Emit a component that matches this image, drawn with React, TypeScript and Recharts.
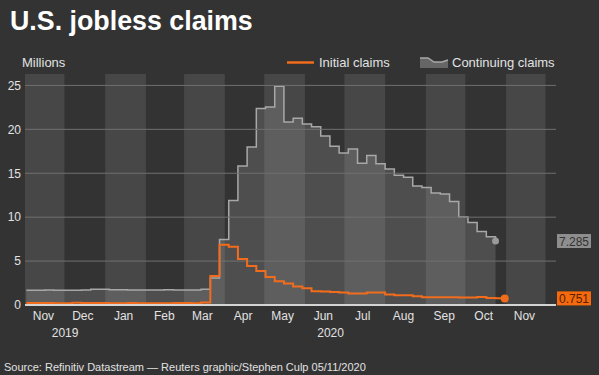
import React from "react";
import {
  ComposedChart,
  Area,
  Line,
  XAxis,
  YAxis,
  ReferenceArea,
  ReferenceLine,
  ReferenceDot,
} from "recharts";

// ---------- data ----------
const DOMAIN_START = "2019-11-01";
const DOMAIN_END = "2020-12-09";

const weekEnding: string[] = [
  "2019-11-02", "2019-11-09", "2019-11-16", "2019-11-23", "2019-11-30",
  "2019-12-07", "2019-12-14", "2019-12-21", "2019-12-28",
  "2020-01-04", "2020-01-11", "2020-01-18", "2020-01-25",
  "2020-02-01", "2020-02-08", "2020-02-15", "2020-02-22", "2020-02-29",
  "2020-03-07", "2020-03-14", "2020-03-21", "2020-03-28",
  "2020-04-04", "2020-04-11", "2020-04-18", "2020-04-25",
  "2020-05-02", "2020-05-09", "2020-05-16", "2020-05-23", "2020-05-30",
  "2020-06-06", "2020-06-13", "2020-06-20", "2020-06-27",
  "2020-07-04", "2020-07-11", "2020-07-18", "2020-07-25",
  "2020-08-01", "2020-08-08", "2020-08-15", "2020-08-22", "2020-08-29",
  "2020-09-05", "2020-09-12", "2020-09-19", "2020-09-26",
  "2020-10-03", "2020-10-10", "2020-10-17", "2020-10-24", "2020-10-31",
];

const initialClaims: number[] = [
  0.22, 0.22, 0.23, 0.21, 0.2,
  0.25, 0.23, 0.22, 0.22,
  0.21, 0.21, 0.22, 0.21,
  0.2, 0.2, 0.21, 0.22, 0.22,
  0.21, 0.28, 3.31, 6.87,
  6.62, 5.24, 4.44, 3.87,
  3.18, 2.69, 2.45, 2.12, 1.9,
  1.57, 1.54, 1.48, 1.41,
  1.31, 1.31, 1.42, 1.43,
  1.19, 1.1, 1.11, 1.01, 0.88,
  0.89, 0.87, 0.87, 0.85,
  0.85, 0.9, 0.79, 0.76, 0.751,
];

const continuingClaims: (number | null)[] = [
  1.69, 1.69, 1.7, 1.68, 1.69,
  1.67, 1.72, 1.8, 1.78,
  1.73, 1.73, 1.7, 1.7,
  1.7, 1.72, 1.73, 1.72, 1.7,
  1.7, 1.78, 3.06, 7.45,
  11.91, 15.82, 17.99, 22.38,
  22.55, 24.91, 20.84, 21.27, 20.61,
  20.29, 19.23, 18.06, 17.3,
  17.76, 16.15, 17.02, 16.09,
  15.48, 14.76, 14.54, 13.54, 13.39,
  12.75, 12.63, 11.77, 10.02,
  9.4, 8.37, 7.76, 7.285, null,
];

const monthTicks: string[] = [
  "2019-11-15", "2019-12-15", "2020-01-15", "2020-02-15", "2020-03-15",
  "2020-04-15", "2020-05-15", "2020-06-15", "2020-07-15", "2020-08-15",
  "2020-09-15", "2020-10-15", "2020-11-15",
];
const monthLabels: string[] = [
  "Nov", "Dec", "Jan", "Feb", "Mar", "Apr", "May", "Jun", "Jul", "Aug", "Sep", "Oct", "Nov",
];

const shadedMonths: [string, string][] = [
  ["2019-11-01", "2019-12-01"],
  ["2020-01-01", "2020-02-01"],
  ["2020-03-01", "2020-04-01"],
  ["2020-05-01", "2020-06-01"],
  ["2020-07-01", "2020-08-01"],
  ["2020-09-01", "2020-10-01"],
  ["2020-11-01", "2020-12-01"],
];

const years: number[] = [2019, 2020];
const yTicks: number[] = [0, 5, 10, 15, 20, 25];
const Y_MAX = 26.3;

// ---------- derived ----------
const ts = (d: string) => Date.parse(d + "T00:00:00Z");
const xStart = ts(DOMAIN_START);
const xEnd = ts(DOMAIN_END);

const rows = weekEnding.map((d, i) => ({
  t: ts(d),
  initial: initialClaims[i],
  cont: continuingClaims[i],
}));

const monthTickVals = monthTicks.map(ts);
const yearTickVals = years.map((y) => {
  const a = Math.max(xStart, Date.UTC(y, 0, 1));
  const b = Math.min(xEnd, Date.UTC(y + 1, 0, 1));
  return (a + b) / 2;
});

let lastContIdx = continuingClaims.length - 1;
while (lastContIdx >= 0 && continuingClaims[lastContIdx] == null) lastContIdx--;
const lastCont = continuingClaims[lastContIdx] as number;
const lastContT = ts(weekEnding[lastContIdx]);
const lastInit = initialClaims[initialClaims.length - 1];
const lastInitT = ts(weekEnding[weekEnding.length - 1]);

// ---------- styles ----------
const BG = "#333333";
const STRIPE = "#474747";
const ORANGE = "#f26c1e";
const GRAY_LINE = "#a8a8a8";
const TEXT = "#e2e2e2";
const FONT = "'Liberation Sans', Arial, Helvetica, sans-serif";

const EndTag = (props: any) => {
  const { x, y, payload } = props;
  const isInit = payload.value === lastInit;
  const fill = isInit ? "#f56a0c" : "#8e8e8e";
  const color = isInit ? "#5a1e00" : "#333333";
  const label = isInit ? lastInit.toFixed(3) : lastCont.toFixed(3);
  return (
    <g>
      <rect x={x + 1} y={y - 7} width={34} height={14} fill={fill} />
      <text
        x={x + 18}
        y={y + 4.5}
        textAnchor="middle"
        fontSize={12}
        fontFamily={FONT}
        fill={color}
      >
        {label}
      </text>
    </g>
  );
};

export default function App() {
  return (
    <div
      style={{
        position: "absolute",
        left: 0,
        top: 0,
        width: 599,
        height: 375,
        background: BG,
        fontFamily: FONT,
        overflow: "hidden",
      }}
    >
      <ComposedChart
        width={599}
        height={375}
        data={rows}
        margin={{ top: 74, right: 0, bottom: 30, left: 0 }}
        style={{ position: "absolute", left: 0, top: 0 }}
      >
        <XAxis
          xAxisId="m"
          dataKey="t"
          type="number"
          scale="linear"
          domain={[xStart, xEnd]}
          ticks={monthTickVals}
          interval={0}
          tickFormatter={(v: number) => monthLabels[monthTickVals.indexOf(v)] ?? ""}
          tickLine={false}
          axisLine={{ stroke: "#d4d4d4", strokeWidth: 2 }}
          tick={{ fill: TEXT, fontSize: 12, fontFamily: FONT }}
          tickSize={4}
          tickMargin={2}
          height={20}
          allowDataOverflow
        />
        <XAxis
          xAxisId="y"
          dataKey="t"
          type="number"
          scale="linear"
          domain={[xStart, xEnd]}
          ticks={yearTickVals}
          interval={0}
          tickFormatter={(v: number) => String(years[yearTickVals.indexOf(v)] ?? "")}
          tickLine={false}
          axisLine={false}
          tick={{ fill: TEXT, fontSize: 12, fontFamily: FONT }}
          tickSize={0}
          tickMargin={3}
          height={20}
          allowDataOverflow
        />
        <YAxis
          yAxisId="l"
          type="number"
          domain={[0, Y_MAX]}
          ticks={yTicks}
          interval={0}
          width={25}
          tickLine={false}
          axisLine={false}
          tickSize={0}
          tickMargin={4}
          tick={{ fill: TEXT, fontSize: 12, fontFamily: FONT }}
          allowDataOverflow
        />
        <YAxis
          yAxisId="r"
          orientation="right"
          type="number"
          domain={[0, Y_MAX]}
          ticks={[lastCont, lastInit]}
          interval={0}
          width={43}
          tickLine={false}
          axisLine={false}
          tickSize={0}
          tickMargin={0}
          tick={<EndTag />}
          allowDataOverflow
        />

        {shadedMonths.map(([a, b], i) => (
          <ReferenceArea
            key={"s" + i}
            xAxisId="m"
            yAxisId="l"
            x1={ts(a)}
            x2={ts(b)}
            y1={0}
            y2={Y_MAX}
            fill={STRIPE}
            fillOpacity={1}
            stroke="none"
            ifOverflow="hidden"
          />
        ))}

        <Area
          xAxisId="m"
          yAxisId="l"
          type="stepAfter"
          dataKey="cont"
          stroke={GRAY_LINE}
          strokeWidth={1.5}
          fill="#bdbdbd"
          fillOpacity={0.2}
          dot={false}
          activeDot={false}
          isAnimationActive={false}
        />

        {yTicks
          .filter((v) => v > 0)
          .map((v) => (
            <ReferenceLine
              key={"g" + v}
              xAxisId="m"
              yAxisId="l"
              y={v}
              stroke="#707070"
              strokeWidth={1}
            />
          ))}

        <Line
          xAxisId="m"
          yAxisId="l"
          type="stepAfter"
          dataKey="initial"
          stroke={ORANGE}
          strokeWidth={2}
          dot={false}
          activeDot={false}
          isAnimationActive={false}
        />

        <ReferenceDot
          xAxisId="m"
          yAxisId="l"
          x={lastContT}
          y={lastCont}
          r={3.5}
          fill="#9a9a9a"
          stroke="none"
        />
        <ReferenceDot
          xAxisId="m"
          yAxisId="l"
          x={lastInitT}
          y={lastInit}
          r={4}
          fill={ORANGE}
          stroke="none"
        />
      </ComposedChart>

      <svg
        width={599}
        height={375}
        style={{ position: "absolute", left: 0, top: 0, pointerEvents: "none" }}
      >
        <text x={10} y={29.5} fontSize={26.8} fontWeight="bold" fill="#ffffff" fontFamily={FONT}>
          U.S. jobless claims
        </text>
        <text x={22} y={67} fontSize={13} fill={TEXT} fontFamily={FONT}>
          Millions
        </text>
        <line x1={287} y1={62.5} x2={314} y2={62.5} stroke={ORANGE} strokeWidth={2.5} />
        <text x={319} y={67} fontSize={13} fill={TEXT} fontFamily={FONT}>
          Initial claims
        </text>
        <path d="M420,58 L428,58 L434,62 L442,62 L448,60 L448,68 L420,68 Z" fill="#666666" />
        <path d="M420,58 L428,58 L434,62 L442,62 L448,60" fill="none" stroke={GRAY_LINE} strokeWidth={1.5} />
        <text x={452} y={67} fontSize={13} fill={TEXT} fontFamily={FONT}>
          Continuing claims
        </text>
        <text x={4} y={371} fontSize={11} fill={TEXT} fontFamily={FONT}>
          Source: Refinitiv Datastream — Reuters graphic/Stephen Culp 05/11/2020
        </text>
      </svg>
    </div>
  );
}
